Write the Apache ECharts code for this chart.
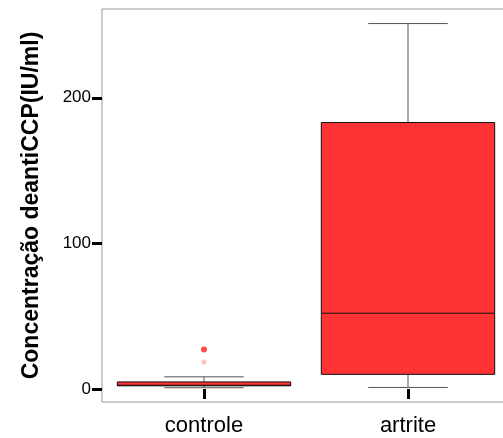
<!DOCTYPE html>
<html>
<head>
<meta charset="utf-8">
<script src="https://cdn.jsdelivr.net/npm/echarts@6/dist/echarts.min.js"></script>
<style>
  html, body { margin: 0; padding: 0; background: #fff; }
  #chart { width: 503px; height: 438px; }
</style>
</head>
<body>
<div id="chart"></div>
<script>
  // box plot stats: [min, Q1, median, Q3, max]
  var categories = ['controle', 'artrite'];
  var boxStats = [
    [0.8, 2.1, 2.5, 4.8, 8.3],
    [1, 10, 52, 183, 251]
  ];
  var outliers = [[0, 27]];
  var extremes = [[0, 18.5]];
  var yTicks = [0, 100, 200];

  var chart = echarts.init(document.getElementById('chart'));

  function renderBox(params, api) {
    var x = api.value(0);
    var lo = api.coord([x, api.value(1)]);
    var q1 = api.coord([x, api.value(2)]);
    var med = api.coord([x, api.value(3)]);
    var q3 = api.coord([x, api.value(4)]);
    var hi = api.coord([x, api.value(5)]);
    var band = api.size([1, 0])[0];
    var bw = band * 0.85;
    var cw = band * 0.39;
    var cx = lo[0];
    var wStyle = { stroke: '#555', lineWidth: 1 };
    return {
      type: 'group',
      children: [
        { type: 'line', shape: { x1: cx, y1: hi[1], x2: cx, y2: q3[1] }, style: wStyle },
        { type: 'line', shape: { x1: cx, y1: lo[1], x2: cx, y2: q1[1] }, style: wStyle },
        { type: 'line', shape: { x1: cx - cw / 2, y1: hi[1], x2: cx + cw / 2, y2: hi[1] }, style: wStyle },
        { type: 'line', shape: { x1: cx - cw / 2, y1: lo[1], x2: cx + cw / 2, y2: lo[1] }, style: wStyle },
        { type: 'rect', shape: { x: cx - bw / 2, y: q3[1], width: bw, height: q1[1] - q3[1] },
          style: { fill: '#ff3333', stroke: '#111', lineWidth: 1 } },
        { type: 'line', shape: { x1: cx - bw / 2, y1: med[1], x2: cx + bw / 2, y2: med[1] },
          style: { stroke: '#111', lineWidth: 1 } }
      ]
    };
  }

  chart.setOption({
    animation: false,
    grid: {
      left: 102, width: 408, top: 9, height: 393,
      outerBoundsMode: 'none', containLabel: false,
      show: true, borderColor: '#999', borderWidth: 1
    },
    xAxis: {
      type: 'category',
      data: categories,
      axisLine: { show: false },
      axisTick: { show: true, alignWithLabel: true, length: 10, lineStyle: { color: '#000', width: 3 } },
      axisLabel: { color: '#000', fontSize: 22, fontFamily: 'Liberation Sans, Arial', margin: 13 },
      splitLine: { show: false }
    },
    yAxis: {
      type: 'value',
      min: -9,
      max: 261,
      name: 'Concentração deantiCCP(IU/ml)',
      nameLocation: 'middle',
      nameGap: 59,
      nameTextStyle: { color: '#000', fontSize: 23, fontWeight: 'bold', fontFamily: 'Liberation Sans, Arial' },
      axisLine: { show: false },
      axisTick: { show: true, customValues: yTicks, length: 10, lineStyle: { color: '#000', width: 3 } },
      axisLabel: { customValues: yTicks, color: '#000', fontSize: 17, fontFamily: 'Liberation Sans, Arial', margin: 11 },
      splitLine: { show: false }
    },
    series: [
      {
        type: 'custom',
        renderItem: renderBox,
        encode: { x: 0, y: [1, 2, 3, 4, 5] },
        data: boxStats.map(function (s, i) { return [i].concat(s); })
      },
      {
        type: 'scatter',
        symbol: 'circle',
        symbolSize: 6,
        itemStyle: { color: '#ff2020' },
        data: outliers
      },
      {
        type: 'scatter',
        symbol: 'circle',
        symbolSize: 5,
        itemStyle: { color: '#ffb0b0' },
        data: extremes
      }
    ]
  });
</script>
</body>
</html>
